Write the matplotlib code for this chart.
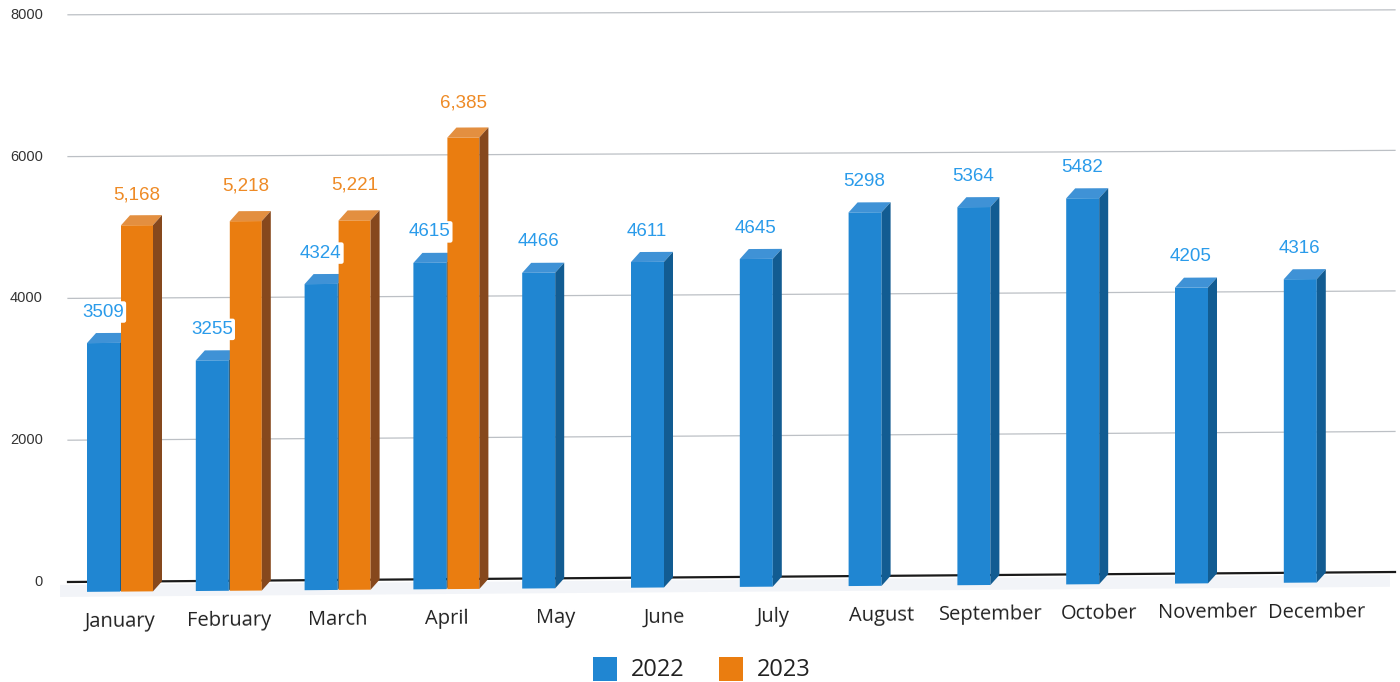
import numpy as np
import matplotlib
matplotlib.use("Agg")
import matplotlib.pyplot as plt

# Values
months = ["January", "February", "March", "April", "May", "June", "July",
          "August", "September", "October", "November", "December"]
sales_2022 = [3509, 3255, 4324, 4615, 4466, 4611, 4645, 5298, 5364, 5482, 4205, 4316]
sales_2023 = [5168, 5218, 5221, 6385]
labels_2023 = ["5,168", "5,218", "5,221", "6,385"]
y_ticks = [0, 2000, 4000, 6000, 8000]
legend_years = ["2022", "2023"]

# Scale: x axis is in image pixels, one value unit is PX_PER_UNIT pixels tall
PX_PER_UNIT = 0.0709
X_LEFT, X_RIGHT = 68, 1395
DEPTH_X = 9  # 3D depth of the bars, pixels
DEPTH_Y = 10 / PX_PER_UNIT
LABEL_GAP = 21 / PX_PER_UNIT

blue = ("#2086d2", "#3f92d6", "#125c92")
orange = ("#ea7d10", "#e38f40", "#86481d")
orange_gaps = [20, 25, 25, 25]  # pixels between bar top and its label


def tilt(x, v):
    # the scan is slightly rotated, and more so near the baseline
    x = np.asarray(x, dtype=float)
    v = np.asarray(v, dtype=float)
    return x, v + (x - X_LEFT) / (X_RIGHT - X_LEFT) * (141 - 71 * v / 8000)


def draw_bar(ax, left, width, value, colors):
    base = -DEPTH_Y
    top = value - DEPTH_Y
    right = left + width
    ax.fill(*tilt([left, right, right, left], [base, base, top, top]),
            color=colors[0], lw=0, zorder=3)
    ax.fill(*tilt([left, right, right + DEPTH_X, left + DEPTH_X],
                  [top, top, value, value]), color=colors[1], lw=0, zorder=3)
    ax.fill(*tilt([right, right + DEPTH_X, right + DEPTH_X, right],
                  [base, 0, value, top]), color=colors[2], lw=0, zorder=3)


fig = plt.figure(figsize=(14, 6.82), dpi=100)
ax = fig.add_axes([0, 0, 1, 1])
ax.set_xlim(0, 1400)
ax.set_ylim(-100 / PX_PER_UNIT, 582 / PX_PER_UNIT)
ax.axis("off")

# Floor shadow and grid
floor_x = [60, 1390, 1390, 60]
ax.fill(*tilt(floor_x, [-40, -40, -210, -210]), color="#f2f4f8", lw=0, zorder=1)
for tick in y_ticks:
    xs, vs = tilt([X_LEFT, X_RIGHT], [tick, tick])
    if tick == 0:
        ax.plot(xs, vs, color="#1a1a1a", lw=1.6, zorder=2)
    else:
        ax.plot(xs, vs, color="#bcc0c5", lw=0.9, zorder=2)
    ax.text(43, tick, str(tick), ha="right", va="center", fontsize=10.5,
            family="Liberation Sans", color="#333333")

# Bars
group_left = 87 + 108.8 * np.arange(len(months))
for left, value in zip(group_left, sales_2022):
    draw_bar(ax, left, 33, value, blue)
for left, value in zip(group_left, sales_2023):
    draw_bar(ax, left + 34, 32, value, orange)

# Value labels
for left, value in zip(group_left, sales_2022):
    x, v = tilt(left + 16, value + LABEL_GAP)
    ax.text(x, v, str(value), ha="center", va="center", fontsize=13.5,
            family="Liberation Sans", color="#2a9bea", zorder=5,
            bbox=dict(boxstyle="round,pad=0.12", fc="white", ec="none"))
for left, value, text, gap in zip(group_left, sales_2023, labels_2023, orange_gaps):
    x, v = tilt(left + 50, value + gap / PX_PER_UNIT)
    ax.text(x, v, text, ha="center", va="center", fontsize=13.5,
            family="Liberation Sans", color="#ee8a25", zorder=5)

# Month labels
for left, month in zip(group_left, months):
    x, v = tilt(left + 33, -40 / PX_PER_UNIT)
    ax.text(x, v, month, ha="center", va="center", fontsize=14.5,
            family="Open Sans", color="#222222", rotation=0.4)

# Legend, placed in figure pixels
for swatch_x, text_x, year, colors in zip([593, 719], [631, 757], legend_years, [blue, orange]):
    ax.fill([swatch_x, swatch_x + 24, swatch_x + 24, swatch_x],
            [-75 / PX_PER_UNIT, -75 / PX_PER_UNIT, -99 / PX_PER_UNIT, -99 / PX_PER_UNIT],
            color=colors[0], lw=0)
    ax.text(text_x, -88 / PX_PER_UNIT, year, ha="left", va="center", fontsize=17,
            family="Open Sans", color="#222222")

fig.savefig("out.png", dpi=100)
